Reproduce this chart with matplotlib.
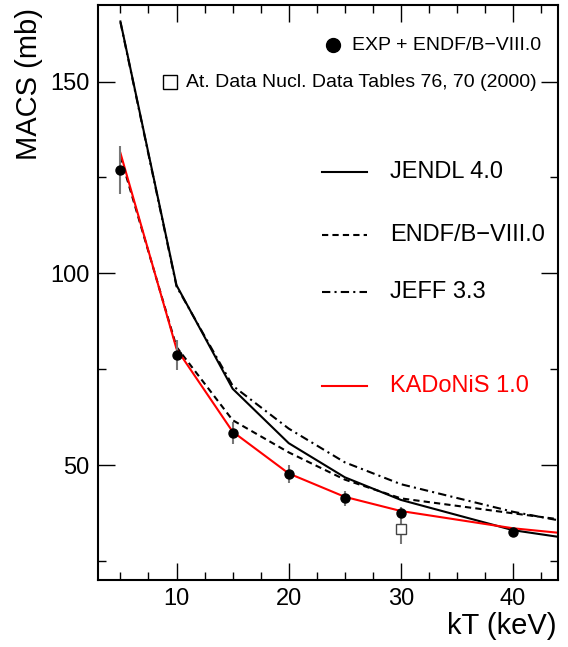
import matplotlib
matplotlib.use('Agg')
import matplotlib.pyplot as plt
from matplotlib.ticker import MultipleLocator

plt.rcParams['font.family'] = ['Liberation Sans', 'DejaVu Sans']

# measured MACS (EXP + ENDF/B-VIII.0)
kT_exp = [5, 10, 15, 20, 25, 30, 40]
macs_exp = [127.0, 78.7, 58.4, 47.6, 41.3, 37.4, 32.6]
err_exp = [6.2, 3.8, 2.9, 2.4, 2.0, 1.6, 1.3]

# At. Data Nucl. Data Tables 76, 70 (2000)
kT_old = [30]
macs_old = [33.2]
err_old = [3.8]

# evaluated libraries
kT_lib = [5, 10, 15, 20, 25, 30, 40, 50]
jendl = [165.7, 96.9, 69.9, 55.7, 46.8, 40.9, 33.0, 28.7]
endf = [130.5, 80.8, 61.7, 53.3, 46.2, 41.3, 37.4, 33.6]
jeff = [165.5, 96.6, 70.7, 59.5, 50.7, 45.0, 37.8, 32.3]
kadonis = [131.4, 80.3, 58.7, 47.8, 41.7, 38.0, 33.5, 30.6]

fig = plt.figure(figsize=(5.68, 6.47), dpi=100)
ax = fig.add_axes([0.1725, 0.1035, 0.8099, 0.8888])

ax.plot(kT_lib, jendl, color='black', lw=1.5, ls='-')
ax.plot(kT_lib, endf, color='black', lw=1.5, ls=(0, (3, 2)))
ax.plot(kT_lib, jeff, color='black', lw=1.5, ls=(0, (4, 2, 1, 2)))
ax.plot(kT_lib, kadonis, color='red', lw=1.5, ls='-')

ax.errorbar(kT_exp, macs_exp, yerr=err_exp, fmt='o', color='black',
            ms=6.5, ecolor='#777777', elinewidth=1.5, capsize=0, zorder=5)
ax.errorbar(kT_old, macs_old, yerr=err_old, fmt='s', mfc='white', mec='#444444',
            mew=1, ms=6.5, ecolor='#777777', elinewidth=1.5, capsize=0, zorder=5)

ax.set_xlim(3, 44)
ax.set_ylim(20, 170)
ax.xaxis.set_major_locator(MultipleLocator(10))
ax.xaxis.set_minor_locator(MultipleLocator(2.5))
ax.yaxis.set_major_locator(MultipleLocator(50))
ax.yaxis.set_minor_locator(MultipleLocator(25))
ax.tick_params(which='both', direction='in', right=True, top=True,
               labelsize=17, width=1)
ax.tick_params(which='major', length=12, pad=6)
ax.tick_params(which='minor', length=6)
for s in ax.spines.values():
    s.set_linewidth(1.5)

ax.text(0.9957, -0.08, 'kT (keV)', transform=ax.transAxes, fontsize=21,
        ha='right', va='center')
ax.text(-0.15, 0.995, 'MACS (mb)', transform=ax.transAxes, fontsize=21,
        rotation=90, ha='center', va='top')

# legend, drawn by hand
tr = ax.transAxes
ax.plot([0.511], [0.930], 'o', color='black', ms=10, transform=tr, clip_on=False)
ax.text(0.552, 0.930, 'EXP + ENDF/B−VIII.0', transform=tr, fontsize=14, va='center')
ax.plot([0.1565], [0.866], 's', mfc='white', mec='black', mew=1, ms=10,
        transform=tr, clip_on=False)
ax.text(0.191, 0.866, 'At. Data Nucl. Data Tables 76, 70 (2000)', transform=tr,
        fontsize=14, va='center')

leg_y = [0.7096, 0.600, 0.5009, 0.3374]
leg_txt = ['JENDL 4.0', 'ENDF/B−VIII.0', 'JEFF 3.3', 'KADoNiS 1.0']
leg_ls = ['-', (0, (3, 2)), (0, (4, 2, 1, 2)), '-']
leg_col = ['black', 'black', 'black', 'red']
for y, t, ls, c in zip(leg_y, leg_txt, leg_ls, leg_col):
    ax.plot([0.487, 0.585], [y, y], color=c, ls=ls, lw=1.5, transform=tr)
    ax.text(0.635, y, t, transform=tr, fontsize=17, color=c, va='center')

fig.savefig('out.png', dpi=100)
